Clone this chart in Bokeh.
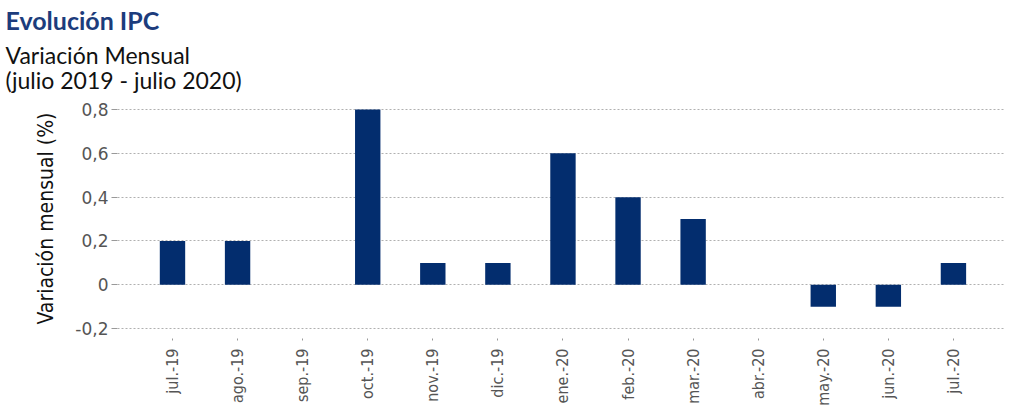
from bokeh.plotting import figure
from bokeh.models import Range1d, FixedTicker, Title, ColumnDataSource
from bokeh.embed import file_html
from bokeh.resources import INLINE
import math

months = ["jul.-19", "ago.-19", "sep.-19", "oct.-19", "nov.-19", "dic.-19",
          "ene.-20", "feb.-20", "mar.-20", "abr.-20", "may.-20", "jun.-20", "jul.-20"]
values = [0.2, 0.2, 0.0, 0.8, 0.1, 0.1, 0.6, 0.4, 0.3, 0.0, -0.1, -0.1, 0.1]
y_ticks = [-0.2, 0.0, 0.2, 0.4, 0.6, 0.8]
y_tick_labels = ["-0,2", "0", "0,2", "0,4", "0,6", "0,8"]
title_1 = "Evolución IPC"
title_2 = "Variación Mensual"
title_3 = "(julio 2019 - julio 2020)"
y_title = "Variación mensual (%)"

idx = list(range(len(months)))
src = ColumnDataSource(dict(x=idx, top=values))

W, H = 1016, 408
LEFT, RIGHT, TOP, BOTTOM = 117, 1005, 98, 339
X0, X1 = -0.845, 12.8
Y0, Y1 = -0.245, 0.85

p = figure(width=W, height=H, output_backend="svg", toolbar_location=None,
           x_range=Range1d(X0, X1), y_range=Range1d(Y0, Y1),
           min_border_left=LEFT, min_border_right=W - RIGHT, min_border_top=TOP,
           min_border_bottom=H - BOTTOM, title=None)
p.outline_line_color = None
p.background_fill_color = "white"
p.border_fill_color = "white"

p.vbar(x="x", top="top", bottom=0, width=0.39, source=src,
       fill_color="#032D6E", line_color=None)

# axes
p.xaxis.ticker = FixedTicker(ticks=idx)
p.xaxis.major_label_overrides = {i: m for i, m in zip(idx, months)}
p.xaxis.major_label_orientation = math.pi / 2
p.xaxis.axis_line_color = None
p.xaxis.major_tick_in = 0
p.xaxis.major_tick_out = 2
p.xaxis.major_tick_line_color = "#999999"
p.xaxis.minor_tick_line_color = None
p.xaxis.major_label_standoff = 8
p.xaxis.major_label_text_font = "Liberation Sans Narrow, DejaVu Sans Condensed, sans-serif"
p.xaxis.major_label_text_font_size = "16px"
p.xaxis.major_label_text_color = "#555555"

p.yaxis.ticker = FixedTicker(ticks=y_ticks)
p.yaxis.major_label_overrides = {t: l for t, l in zip(y_ticks, y_tick_labels)}
p.yaxis.axis_line_color = None
p.yaxis.major_tick_in = 0
p.yaxis.major_tick_out = 6
p.yaxis.major_tick_line_color = "#999999"
p.yaxis.minor_tick_line_color = None
p.yaxis.major_label_standoff = 3
p.yaxis.major_label_text_font = "DejaVu Sans"
p.yaxis.major_label_text_font_size = "17px"
p.yaxis.major_label_text_color = "#555555"
p.yaxis.axis_label = y_title
p.yaxis.axis_label_text_font = "Liberation Sans Narrow, DejaVu Sans Condensed, sans-serif"
p.yaxis.axis_label_text_font_size = "21px"
p.yaxis.axis_label_text_font_style = "normal"
p.yaxis.axis_label_text_color = "#111111"
p.yaxis.axis_label_standoff = 14

p.xgrid.grid_line_color = None
p.ygrid.grid_line_color = "#b0b0b0"
p.ygrid.grid_line_dash = "2 2"
p.ygrid.grid_line_width = 1

# title block (first added sits nearest the plot)
sub = Title(text=title_2 + "\n" + title_3, align="left", offset=5 - LEFT,
            text_font="Lato", text_font_size="23px", text_font_style="normal",
            text_color="#111111", text_line_height=0.92, standoff=8)
main = Title(text=title_1, align="left", offset=5 - LEFT,
             text_font="Lato", text_font_size="25px", text_font_style="bold",
             text_color="#1C3C7C", standoff=0)
p.add_layout(sub, "above")
p.add_layout(main, "above")

open("out.html", "w").write(file_html(p, INLINE))
